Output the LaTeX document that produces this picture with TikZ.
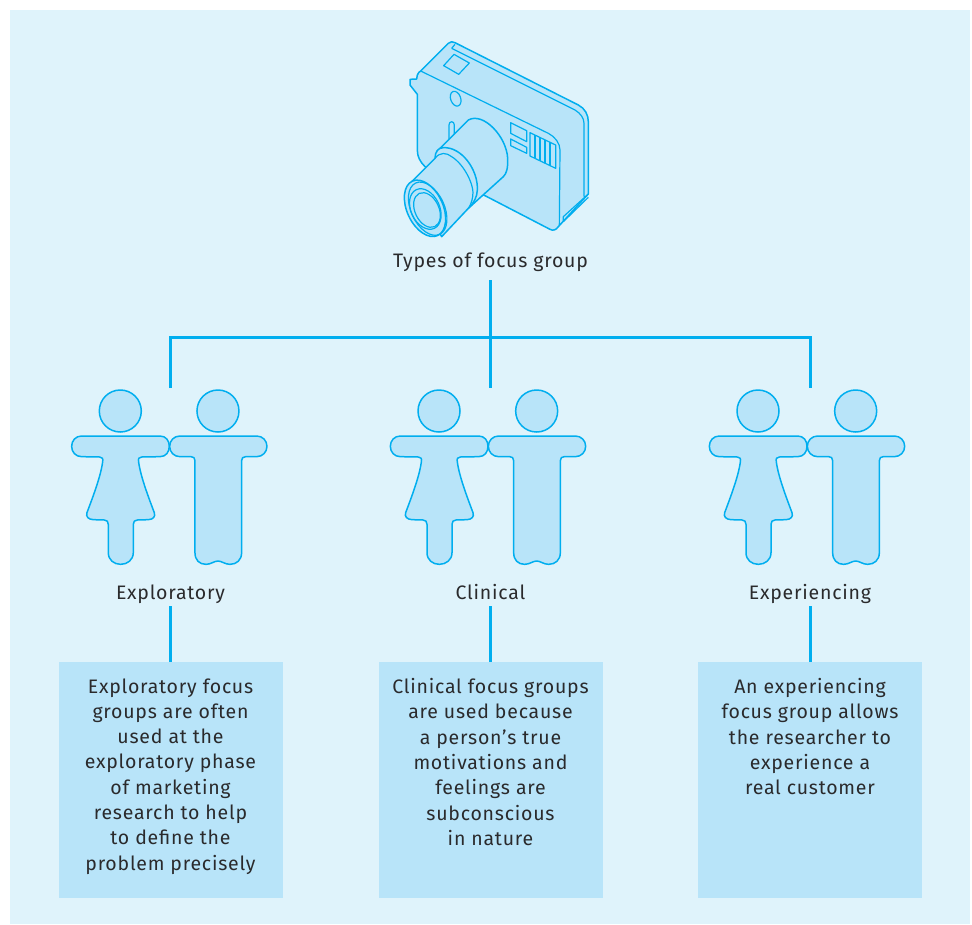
\documentclass[tikz,border=0pt]{standalone}
\usepackage{fontspec}
\setmainfont{Fira Sans}[LetterSpace=4]
\usetikzlibrary{positioning}
\definecolor{panelblue}{HTML}{DFF3FB}
\definecolor{boxblue}{HTML}{B8E4F9}
\definecolor{lineblue}{HTML}{00AEEF}
\definecolor{inkgrey}{HTML}{2A2A2C}
\newcommand{\boxtext}[1]{\parbox[c][236pt][t]{224pt}{\centering\fontsize{19.5}{25.3}\selectfont\vspace*{16pt}#1\par}}

\begin{document}
\begin{tikzpicture}[x=1pt, y=-1pt,
	caption/.style={text=inkgrey, font=\fontsize{19.5}{24}\selectfont, text height=17pt, text depth=3pt, minimum height=28pt, inner sep=0pt},
	textbox/.style={fill=boxblue, text=inkgrey, inner sep=0pt},
	link/.style={lineblue, line width=3pt},
	outline/.style={draw=lineblue, line width=1.5pt, fill=boxblue, line join=round},
	thin outline/.style={draw=lineblue, line width=1.2pt, line join=round},
	couple/.pic={
		\begin{scope}[scale=1/3, shift={(-181,-93)}]
		\draw[outline] (181,93) circle [radius=63];
		\draw[outline] (474,93) circle [radius=63];
		% woman
		\draw[outline] (65,168) -- (300,168) .. controls (318,168) and (328,182) .. (328,199) .. controls (328,216) and (318,230) .. (300,230) -- (245,231) .. controls (237,231) and (234,236) .. (236,246) .. controls (242,290) and (265,350) .. (283,398) .. controls (287,410) and (280,418) .. (265,419) -- (232,420) .. controls (224,420) and (220,425) .. (220,433) -- (220,518) .. controls (220,540) and (202,553) .. (182,553) .. controls (162,553) and (145,540) .. (145,518) -- (145,433) .. controls (145,425) and (141,420) .. (133,420) -- (100,419) .. controls (85,418) and (77,410) .. (81,398) .. controls (99,350) and (122,290) .. (128,246) .. controls (130,236) and (127,231) .. (119,231) -- (65,230) .. controls (47,230) and (35,216) .. (35,199) .. controls (35,182) and (47,168) .. (65,168) -- cycle;
		% man
		\draw[outline] (360,168) -- (590,168) .. controls (608,168) and (621,182) .. (621,199) .. controls (621,216) and (608,230) .. (590,230) -- (557,230) .. controls (549,230) and (545,234) .. (545,242) -- (545,518) .. controls (545,540) and (530,553) .. (510,553) .. controls (495,553) and (485,543) .. (474,543) .. controls (463,543) and (453,553) .. (438,553) .. controls (418,553) and (405,540) .. (405,518) -- (405,242) .. controls (405,234) and (401,230) .. (393,230) -- (360,230) .. controls (342,230) and (329,216) .. (329,199) .. controls (329,182) and (342,168) .. (360,168) -- cycle;
		\end{scope}
	},
	]

	\useasboundingbox (0,0) rectangle (972,924);
	\fill[panelblue] (10,10) rectangle (970,924);

	% camera
	\begin{scope}[shift={(390,30)}, scale=1/3]
	\draw[outline] (175,40) .. controls (182,33) and (188,35) .. (195,38) -- (565,225) .. controls (585,235) and (595,255) .. (595,275) -- (595,492) -- (505,590) .. controls (498,600) and (490,603) .. (480,598) -- (285,497) -- (105,410) .. controls (90,395) and (82,380) .. (82,360) -- (82,193) -- (60,165) -- (60,148) -- (80,147) -- (82,135) .. controls (85,128) and (88,125) .. (92,123) -- cycle;
	\draw[thin outline] (92,123) -- (475,310) .. controls (495,320) and (510,340) .. (510,360) -- (508,585) (185,55) -- (555,240) .. controls (572,250) and (582,265) .. (582,280) -- (582,500) (195,43) -- (185,55) (595,492) -- (520,560) -- (520,575) (595,502) -- (520,575);
	\draw[thin outline] (192,73) -- (238,99) -- (206,133) -- (161,107) -- cycle;
	\draw[thin outline] (197,206) ellipse [x radius=15, y radius=23, rotate=20];
	\draw[thin outline] (177,335) -- (177,285) .. controls (177,272) and (193,272) .. (193,285) -- (193,315);
	\draw[thin outline] (362,278) -- (410,302) -- (410,335) -- (362,310) -- cycle;
	\draw[thin outline] (362,327) -- (410,352) -- (410,370) -- (362,347) -- cycle;
	\draw[thin outline] (420,308) -- (497,345) -- (497,415) -- (420,378) -- cycle;
	\foreach \gx/\gy in {435/315, 450/322, 465/330, 480/337}
		\draw[thin outline] (\gx,\gy) -- (\gx,\gy+70);
	% lens
	\draw[outline] (140,365) -- (235,270) .. controls (280,245) and (350,320) .. (353,385) .. controls (354,415) and (350,430) .. (340,440) -- (235,535) -- cycle;
	\draw[outline] (135,385) .. controls (135,365) and (145,353) .. (160,353) .. controls (215,350) and (265,420) .. (262,480) .. controls (262,500) and (250,522) .. (235,535) -- (155,620) -- (65,455) -- cycle;
	\draw[thin outline] (135,385) .. controls (150,365) and (170,368) .. (185,380) .. controls (225,405) and (255,470) .. (248,500) .. controls (246,515) and (240,528) .. (235,535);
	\draw[outline] (105,535) ellipse [x radius=54, y radius=90, rotate=25];
	\draw[thin outline] (113,536) ellipse [x radius=50, y radius=85, rotate=25];
	\draw[thin outline] (106,537) ellipse [x radius=43, y radius=64, rotate=25];
	\draw[thin outline] (111,540) ellipse [x radius=36, y radius=55, rotate=25];
	\end{scope}

	\foreach \px in {120.3,439,758}
		\pic at (\px,411) {couple};

	\node[caption, minimum height=40pt] (Types) at (490.5,260) {Types of focus group};
	\node[caption] (Exploratory) at (170.5,592) {Exploratory};
	\node[caption] (Clinical) at (490.5,592) {Clinical};
	\node[caption] (Experiencing) at (810,592) {Experiencing};

	\node[textbox, below=56pt of Exploratory] (ExploratoryBox) {\boxtext{Exploratory focus\\groups are often\\used at the\\exploratory phase\\of marketing\\research to help\\to define the\\problem precisely}};
	\node[textbox, below=56pt of Clinical] (ClinicalBox) {\boxtext{Clinical focus groups\\are used because\\a person’s true\\motivations and\\feelings are\\subconscious\\in nature}};
	\node[textbox, below=56pt of Experiencing] (ExperiencingBox) {\boxtext{An experiencing\\focus group allows\\the researcher to\\experience a\\real customer}};

	\coordinate (Hub) at (490.5,337);
	\coordinate (ExploratoryTop) at (170.5,388);
	\coordinate (ClinicalTop) at (490.5,388);
	\coordinate (ExperiencingTop) at (810,388);

	\draw[link] (ExploratoryTop) |- (Hub) -| (ExperiencingTop);
	\draw[link] (Types.south) -- (ClinicalTop);
	\draw[link] (Exploratory.south) -- (ExploratoryBox.north);
	\draw[link] (Clinical.south) -- (ClinicalBox.north);
	\draw[link] (Experiencing.south) -- (ExperiencingBox.north);

\end{tikzpicture}
\end{document}
